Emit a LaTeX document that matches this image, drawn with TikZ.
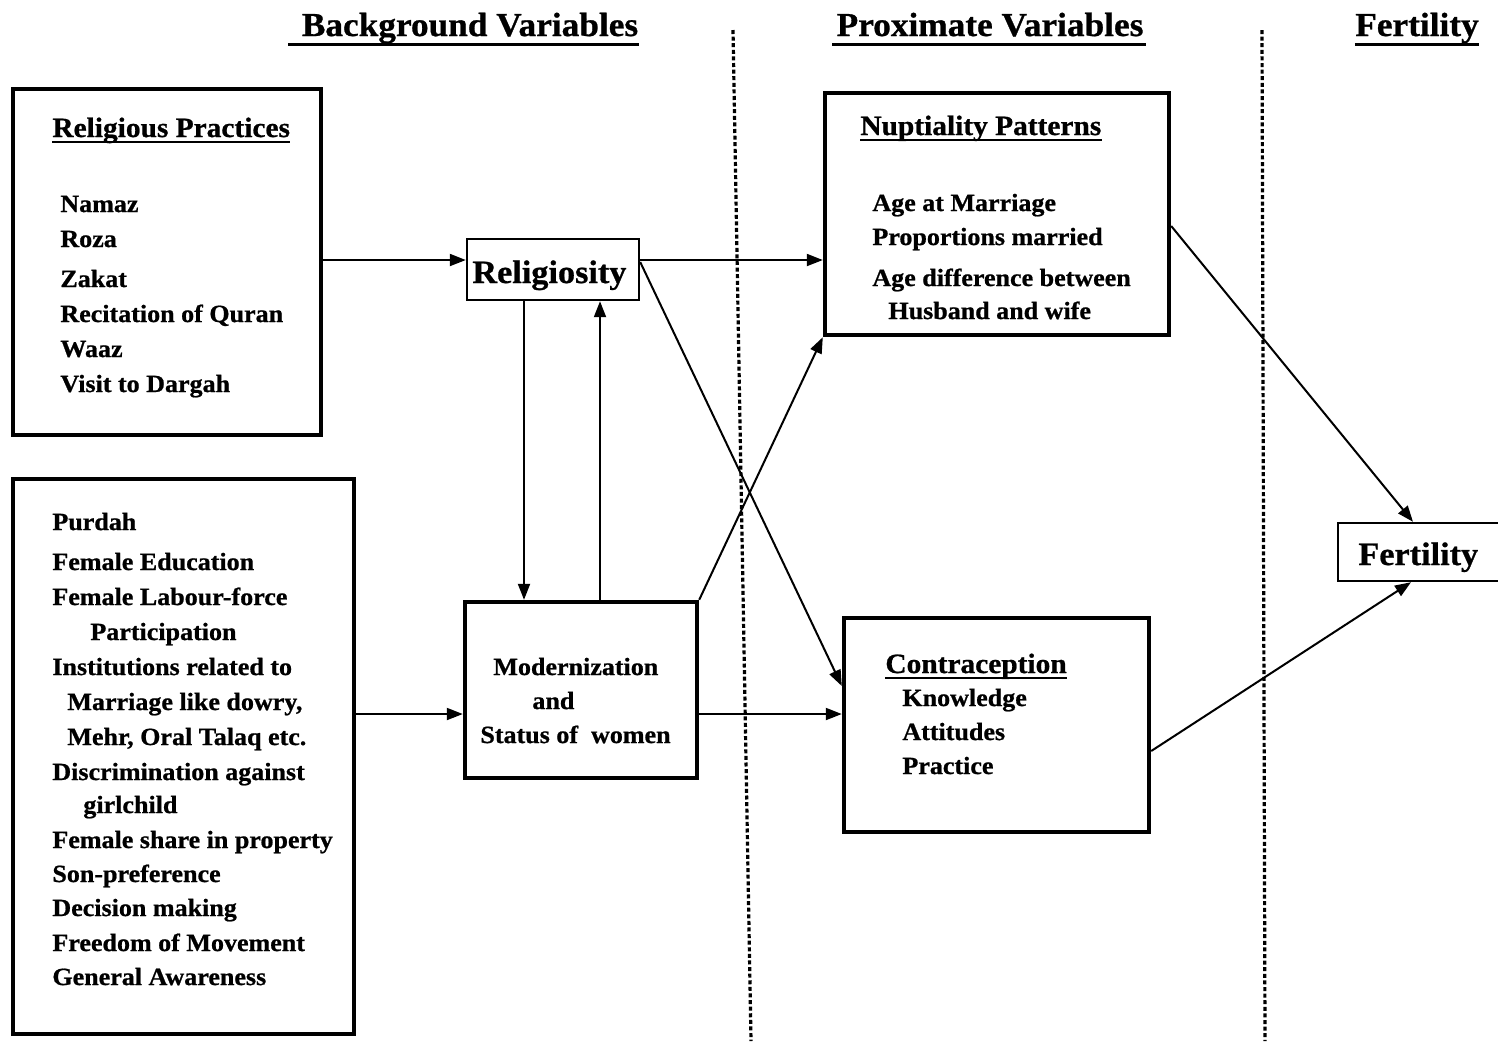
\documentclass[tikz,border=0pt]{standalone}
\usepackage{fontspec}
\setmainfont{Liberation Serif}[FakeStretch=1.05, BoldFeatures={FakeBold=0.8}]
\usetikzlibrary{arrows.meta,calc}
\begin{document}
\begin{tikzpicture}[x=0.5pt,y=-0.5pt,
  box/.style={draw, line width=2.2pt, inner sep=0pt},
  thinbox/.style={draw, line width=1.2pt, inner sep=0pt},
  txt/.style={anchor=base west, inner sep=0pt, font=\fontsize{12.4}{14}\selectfont\bfseries},
  ttl/.style={anchor=base west, inner sep=0pt, font=\fontsize{14}{16}\selectfont\bfseries},
  hdr/.style={anchor=base, inner sep=0pt, font=\fontsize{16.8}{19}\selectfont\bfseries},
  big/.style={anchor=base west, inner sep=0pt, font=\fontsize{16.3}{19}\selectfont\bfseries},
  arr/.style={line width=1pt, -{Triangle[length=8pt,width=6pt]}},
  sepline/.style={line width=1.6pt, dash pattern=on 2pt off 1.3pt},
  uline/.style={line width=1pt},
  hline/.style={line width=1.5pt},
]
\path[use as bounding box] (0,0) rectangle (1498,1041);
\clip (0,0) rectangle (1498,1041);

% headers
\node[hdr] (hb) at (470,36) {Background Variables};
\node[hdr] (hp) at (990,36) {Proximate Variables};
\node[hdr] (hf) at (1417,36) {Fertility};
\draw[hline] ($(hb.base west)+(-13,8)$) -- ($(hb.base east)+(0,8)$);
\draw[hline] ($(hp.base west)+(-4,8)$) -- ($(hp.base east)+(2,8)$);
\draw[hline] ($(hf.base west)+(0,8)$) -- ($(hf.base east)+(0,8)$);

% separators
\draw[sepline] (733,30) -- (751,1041);
\draw[sepline] (1262,30) -- (1265,1041);

% boxes
\node[box, minimum width=154pt, minimum height=173pt] (rp) at (167,262) {};
\node[box, minimum width=170.5pt, minimum height=277.5pt] (pu) at (183.5,756.5) {};
\node[thinbox, minimum width=86pt, minimum height=30.5pt] (rel) at (553,269.5) {};
\node[box, minimum width=116pt, minimum height=88pt] (mod) at (581,690) {};
\node[box, minimum width=172pt, minimum height=121pt] (nup) at (997,214) {};
\node[box, minimum width=152.5pt, minimum height=107pt] (con) at (996.5,725) {};
\node[thinbox, minimum width=84pt, minimum height=29pt] (fer) at (1422,552) {};

% religious practices
\node[ttl] (rpT) at (52,137) {Religious Practices};
\draw[uline] ($(rpT.base west)+(0,5)$) -- ($(rpT.base east)+(0,5)$);
\node[txt] (r1) at (60,212) {Namaz};
\node[txt] (r2) at (60,247) {Roza};
\node[txt] (r3) at (60,287) {Zakat};
\node[txt] (r4) at (60,322) {Recitation of Quran};
\node[txt] (r5) at (60,357) {Waaz};
\node[txt] (r6) at (60,392) {Visit to Dargah};

% purdah box
\node[txt] (p1) at (52,530) {Purdah};
\node[txt] (p2) at (52,570) {Female Education};
\node[txt] (p3) at (52,605) {Female Labour-force};
\node[txt] (p4) at (90,640) {Participation};
\node[txt] (p5) at (52,675) {Institutions related to};
\node[txt] (p6) at (67,710) {Marriage like dowry,};
\node[txt] (p7) at (67,745) {Mehr, Oral Talaq etc.};
\node[txt] (p8) at (52,780) {Discrimination against};
\node[txt] (p9) at (83,813) {girlchild};
\node[txt] (p10) at (52,848) {Female share in property};
\node[txt] (p11) at (52,882) {Son-preference};
\node[txt] (p12) at (52,916) {Decision making};
\node[txt] (p13) at (52,951) {Freedom of Movement};
\node[txt] (p14) at (52,985) {General Awareness};

% religiosity
\node[big] (relT) at (472,283) {Religiosity};

% modernization
\node[txt] (m1) at (493,675) {Modernization};
\node[txt] (m2) at (532,709) {and};
\node[txt] (m3) at (480,743) {Status of\ \ women};

% nuptiality
\node[ttl] (nT) at (860,135) {Nuptiality Patterns};
\draw[uline] ($(nT.base west)+(0,5)$) -- ($(nT.base east)+(0,5)$);
\node[txt] (n1) at (872,211) {Age at Marriage};
\node[txt] (n2) at (872,245) {Proportions married};
\node[txt] (n3) at (872,286) {Age difference between};
\node[txt] (n4) at (888,319) {Husband and wife};

% contraception
\node[ttl] (cT) at (885,673) {Contraception};
\draw[uline] ($(cT.base west)+(0,5)$) -- ($(cT.base east)+(0,5)$);
\node[txt] (c1) at (902,706) {Knowledge};
\node[txt] (c2) at (902,740) {Attitudes};
\node[txt] (c3) at (902,774) {Practice};

% fertility
\node[big] (ferT) at (1358,565) {Fertility};

% connectors
\draw[arr] (rp.east |- 0,260) -- (rel.west |- 0,260);
\draw[arr] (rel.east |- 0,260) -- (nup.west |- 0,260);
\draw[arr] (rel.south -| 524,0) -- (mod.north -| 524,0);
\draw[arr] (mod.north -| 600,0) -- (rel.south -| 600,0);
\draw[arr] (rel.east |- 0,262) -- (con.west |- 0,686);
\draw[arr] (mod.north east) -- (nup.south west);
\draw[arr] (pu.east |- 0,714) -- (mod.west |- 0,714);
\draw[arr] (mod.east |- 0,714) -- (con.west |- 0,714);
\draw[arr] (nup.east |- 0,226) -- (fer.north -| 1413,0);
\draw[arr] (con.east |- 0,751) -- (fer.south -| 1411,0);
\end{tikzpicture}
\end{document}
